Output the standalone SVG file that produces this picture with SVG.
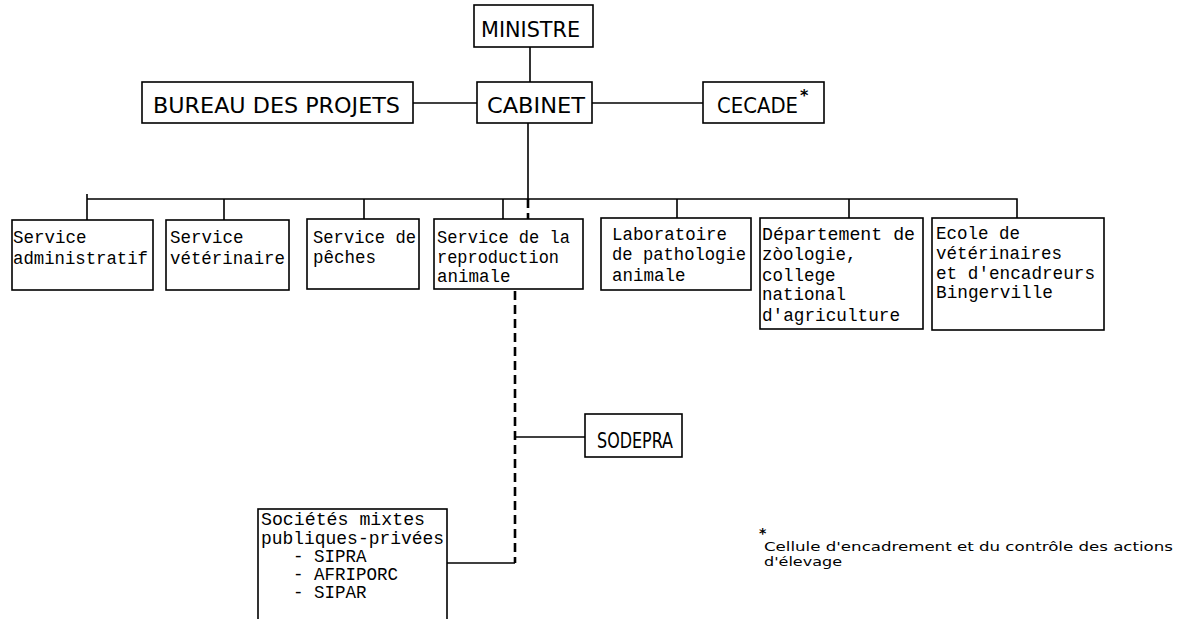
<svg xmlns="http://www.w3.org/2000/svg" width="1188" height="619" viewBox="0 0 1188 619">
<style>
.box{fill:#fff;stroke:#000;stroke-width:1.6}
.ln{fill:none;stroke:#000;stroke-width:1.6}
.dash{fill:none;stroke:#000;stroke-width:2.6;stroke-dasharray:9 5}
.hd{font-family:"DejaVu Sans Condensed","DejaVu Sans",sans-serif;font-size:22px;fill:#000}
.tw{font-family:"Liberation Mono","DejaVu Sans Mono",monospace;font-size:17.5px;fill:#000}
.fn{font-family:"DejaVu Sans Condensed","DejaVu Sans",sans-serif;font-size:13px;fill:#000}
.ast{font-family:"DejaVu Sans",sans-serif;font-weight:bold;fill:#000}
</style>
<rect width="1188" height="619" fill="#fff"/>
<g id="connectors">
<path class="ln" d="M530 47V82"/>
<path class="ln" d="M413 103H477"/>
<path class="ln" d="M592 103H703"/>
<path class="ln" d="M528 123V199"/>
<path class="ln" d="M87 194V220M87 199H1017V218"/>
<path class="ln" d="M224 199V220M364 199V219M503 199V219M677 199V218M849 199V218"/>
<path class="dash" d="M528 199V219"/>
<path class="dash" d="M515 291V563"/>
<path class="ln" d="M515 437H585"/>
<path class="ln" d="M447 563H515"/>
</g>
<g id="ministre"><rect class="box" x="474" y="5" width="119" height="42"/><text class="hd" x="481" y="37" font-size="18" textLength="99" lengthAdjust="spacingAndGlyphs">MINISTRE</text></g>
<g id="cabinet"><rect class="box" x="477" y="82" width="115" height="41"/><text class="hd" x="487" y="113" textLength="98" lengthAdjust="spacingAndGlyphs">CABINET</text></g>
<g id="bureau"><rect class="box" x="142" y="82" width="271" height="41"/><text class="hd" x="153" y="113" textLength="247" lengthAdjust="spacingAndGlyphs">BUREAU DES PROJETS</text></g>
<g id="cecade"><rect class="box" x="703" y="82" width="121" height="41"/><text class="hd" x="717" y="113"><tspan textLength="81" lengthAdjust="spacingAndGlyphs">CECADE</tspan><tspan class="ast" font-size="16" dx="2" dy="-12">*</tspan></text></g>
<g id="svc-admin"><rect class="box" x="12" y="220" width="141" height="70"/><text class="tw" x="13" y="243">Service</text><text class="tw" x="13" y="264" textLength="135" lengthAdjust="spacingAndGlyphs">administratif</text></g>
<g id="svc-vet"><rect class="box" x="166" y="220" width="123" height="70"/><text class="tw" x="170" y="243">Service</text><text class="tw" x="170" y="264" textLength="115" lengthAdjust="spacingAndGlyphs">vétérinaire</text></g>
<g id="svc-peches"><rect class="box" x="307" y="219" width="112" height="70"/><text class="tw" x="313" y="243" textLength="103" lengthAdjust="spacingAndGlyphs">Service de</text><text class="tw" x="313" y="263">pêches</text></g>
<g id="svc-repro"><rect class="box" x="434" y="219" width="149" height="70"/><text class="tw" x="437" y="243" textLength="133" lengthAdjust="spacingAndGlyphs">Service de la</text><text class="tw" x="437" y="263" textLength="122" lengthAdjust="spacingAndGlyphs">reproduction</text><text class="tw" x="437" y="282">animale</text></g>
<g id="labo"><rect class="box" x="601" y="218" width="150" height="72"/><text class="tw" x="612" y="240" textLength="115" lengthAdjust="spacingAndGlyphs">Laboratoire</text><text class="tw" x="612" y="260" textLength="134" lengthAdjust="spacingAndGlyphs">de pathologie</text><text class="tw" x="612" y="281">animale</text></g>
<g id="dept"><rect class="box" x="760" y="218" width="163" height="111"/><text class="tw" x="762" y="240" textLength="153" lengthAdjust="spacingAndGlyphs">Département de</text><text class="tw" x="762" y="260">zòologie,</text><text class="tw" x="762" y="281">college</text><text class="tw" x="762" y="300">national</text><text class="tw" x="762" y="321" textLength="138" lengthAdjust="spacingAndGlyphs">d'agriculture</text></g>
<g id="ecole"><rect class="box" x="932" y="218" width="172" height="112"/><text class="tw" x="936" y="239">Ecole de</text><text class="tw" x="936" y="259" textLength="126" lengthAdjust="spacingAndGlyphs">vétérinaires</text><text class="tw" x="936" y="279" textLength="159" lengthAdjust="spacingAndGlyphs">et d'encadreurs</text><text class="tw" x="936" y="298" textLength="117" lengthAdjust="spacingAndGlyphs">Bingerville</text></g>
<g id="sodepra"><rect class="box" x="585" y="414" width="97" height="43"/><text class="hd" x="597" y="448" textLength="76" lengthAdjust="spacingAndGlyphs">SODEPRA</text></g>
<g id="societes"><rect class="box" x="258" y="509" width="189" height="130"/><text class="tw" x="261" y="525" textLength="164" lengthAdjust="spacingAndGlyphs">Sociétés mixtes</text><text class="tw" x="261" y="544" textLength="183" lengthAdjust="spacingAndGlyphs">publiques-privées</text><text class="tw" x="293" y="562">- SIPRA</text><text class="tw" x="293" y="580">- AFRIPORC</text><text class="tw" x="293" y="598">- SIPAR</text></g>
<g id="footnote"><text class="ast" x="759" y="538" font-size="14">*</text><text class="fn" x="764" y="551" textLength="409" lengthAdjust="spacingAndGlyphs">Cellule d'encadrement et du contrôle des actions</text><text class="fn" x="764" y="566" textLength="78" lengthAdjust="spacingAndGlyphs">d'élevage</text></g>
</svg>
